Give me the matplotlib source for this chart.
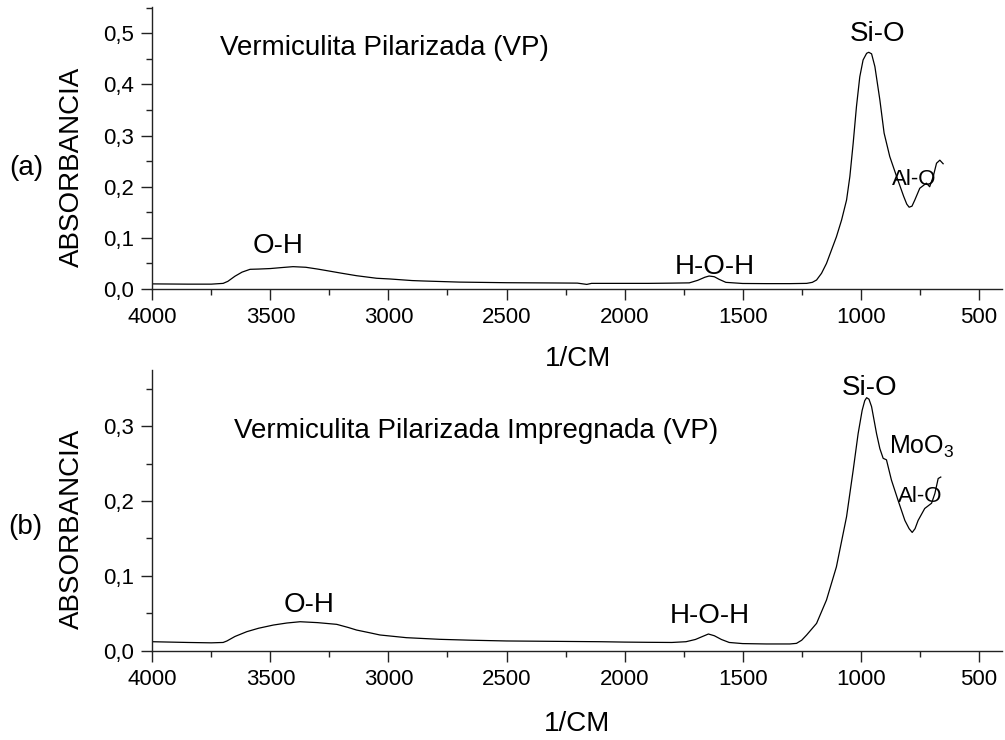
import matplotlib
matplotlib.use("Agg")
import matplotlib.pyplot as plt
from matplotlib.ticker import MultipleLocator, FuncFormatter

plt.rcParams['font.family'] = ['Liberation Sans', 'DejaVu Sans']
plt.rcParams['mathtext.fontset'] = 'custom'
plt.rcParams['mathtext.rm'] = 'Liberation Sans'
plt.rcParams['mathtext.default'] = 'regular'

# ---- data ----
wn_vp = [4000, 3850, 3750, 3700, 3680, 3650, 3620, 3586, 3550, 3500, 3450, 3404,
         3350, 3300, 3262, 3200, 3135, 3050, 2994, 2900, 2854, 2700, 2500, 2300,
         2200, 2160, 2140, 2000, 1900, 1800, 1726, 1690, 1660, 1642, 1620, 1600,
         1571, 1500, 1400, 1300, 1229, 1205, 1187, 1166, 1145, 1124, 1103, 1081,
         1060, 1046, 1032, 1018, 1004, 990, 975, 966, 954, 940, 919, 901, 877,
         848, 818, 805, 795, 783, 771, 750, 722, 708, 693, 679, 665, 651]
abs_vp = [0.010, 0.0095, 0.0095, 0.011, 0.015, 0.025, 0.033, 0.0385, 0.039, 0.040,
          0.042, 0.0437, 0.0425, 0.039, 0.036, 0.031, 0.026, 0.021, 0.0196, 0.0165,
          0.0157, 0.0135, 0.0123, 0.0118, 0.0115, 0.009, 0.011, 0.011, 0.011, 0.0115,
          0.012, 0.017, 0.023, 0.0254, 0.024, 0.019, 0.013, 0.0108, 0.0105, 0.0105,
          0.011, 0.013, 0.0176, 0.0307, 0.050, 0.076, 0.102, 0.135, 0.174, 0.220,
          0.285, 0.357, 0.415, 0.448, 0.461, 0.463, 0.460, 0.435, 0.370, 0.305,
          0.259, 0.220, 0.181, 0.166, 0.160, 0.162, 0.174, 0.197, 0.207, 0.200,
          0.220, 0.246, 0.252, 0.245]

wn_vpi = [4000, 3850, 3750, 3700, 3684, 3650, 3600, 3550, 3487, 3430, 3374, 3300,
          3219, 3170, 3135, 3080, 3036, 2924, 2783, 2650, 2500, 2300, 2100, 2000,
          1900, 1800, 1740, 1700, 1670, 1645, 1620, 1590, 1557, 1500, 1400, 1300,
          1272, 1250, 1229, 1187, 1145, 1103, 1060, 1032, 1011, 994, 983, 975, 965,
          954, 933, 919, 905, 891, 870, 842, 813, 795, 782, 770, 757, 729, 700, 686,
          672, 661]
abs_vpi = [0.012, 0.011, 0.0105, 0.011, 0.013, 0.019, 0.0254, 0.030, 0.0343, 0.037,
           0.0387, 0.0375, 0.0352, 0.031, 0.0276, 0.024, 0.021, 0.0174, 0.0152, 0.014,
           0.013, 0.0125, 0.012, 0.0115, 0.0112, 0.011, 0.012, 0.015, 0.019, 0.0223,
           0.020, 0.015, 0.011, 0.0095, 0.009, 0.009, 0.0098, 0.014, 0.021, 0.0365,
           0.0677, 0.112, 0.179, 0.241, 0.290, 0.321, 0.334, 0.338, 0.336, 0.326,
           0.290, 0.270, 0.257, 0.255, 0.228, 0.201, 0.174, 0.163, 0.158, 0.163,
           0.174, 0.190, 0.197, 0.210, 0.230, 0.232]

x_ticks = [4000, 3500, 3000, 2500, 2000, 1500, 1000, 500]
titles = ["Vermiculita Pilarizada (VP)", "Vermiculita Pilarizada Impregnada (VP)"]
panel_tags = ["(a)", "(b)"]
y_label = "ABSORBANCIA"
x_label = "1/CM"

# ---- figure ----
W, H = 1005, 740
fig = plt.figure(figsize=(W / 100, H / 100), dpi=100)

def fx(px):
    return px / W

def fy(py):
    return 1 - py / H

ax1 = fig.add_axes([fx(152.3), fy(289), fx(1001.7) - fx(152.3), fy(7.3) - fy(289)])
ax2 = fig.add_axes([fx(152.3), fy(650.7), fx(1001.7) - fx(152.3), fy(370) - fy(650.7)])

comma = FuncFormatter(lambda v, p: f"{v:.1f}".replace('.', ','))

for ax, ylim_top in ((ax1, 0.551), (ax2, 0.375)):
    ax.set_xlim(4000, 403)
    ax.set_ylim(0, ylim_top)
    ax.set_xticks(x_ticks)
    ax.xaxis.set_minor_locator(MultipleLocator(250))
    ax.yaxis.set_major_locator(MultipleLocator(0.1))
    ax.yaxis.set_minor_locator(MultipleLocator(0.05))
    ax.yaxis.set_major_formatter(comma)
    for s in ('top', 'right'):
        ax.spines[s].set_visible(False)
    for s in ('left', 'bottom'):
        ax.spines[s].set_linewidth(1.0)
        ax.spines[s].set_color('#222222')
    ax.tick_params(which='major', direction='out', length=8, width=1.0,
                   labelsize=16, pad=5, color='#222222')
    ax.tick_params(which='minor', direction='out', length=4, width=1.0,
                   color='#222222')
    ax.patch.set_alpha(0)

ax1.plot(wn_vp, abs_vp, color='black', lw=0.9)
ax2.plot(wn_vpi, abs_vpi, color='black', lw=0.9)

big = 20
# panel (a) annotations
ax1.text(3713, 0.458, titles[0], fontsize=big, ha='left', va='baseline')
ax1.text(3467, 0.071, "O-H", fontsize=big, ha='center', va='baseline')
ax1.text(1617, 0.0294, "H-O-H", fontsize=big, ha='center', va='baseline')
ax1.text(927, 0.486, "Si-O", fontsize=big, ha='center', va='baseline')
ax1.text(775, 0.2035, "Al-O", fontsize=16, ha='center', va='baseline')

# panel (b) annotations
ax2.text(3656, 0.2836, titles[1], fontsize=big, ha='left', va='baseline')
ax2.text(3336, 0.052, "O-H", fontsize=big, ha='center', va='baseline')
ax2.text(1641, 0.0366, "H-O-H", fontsize=big, ha='center', va='baseline')
ax2.text(961, 0.342, "Si-O", fontsize=big, ha='center', va='baseline')
ax2.text(881, 0.2635, "MoO$_3$", fontsize=18, ha='left', va='baseline')
ax2.text(748, 0.199, "Al-O", fontsize=16, ha='center', va='baseline')

# axis labels & panel tags
fig.text(fx(72), fy(166.7), y_label, rotation=90, fontsize=big, ha='center', va='center')
fig.text(fx(72), fy(528.5), y_label, rotation=90, fontsize=big, ha='center', va='center')
fig.text(fx(578), fy(359), x_label, fontsize=big, ha='center', va='center')
fig.text(fx(577), fy(724), x_label, fontsize=big, ha='center', va='center')
fig.text(fx(26), fy(168), panel_tags[0], fontsize=big, ha='center', va='center')
fig.text(fx(25), fy(527), panel_tags[1], fontsize=big, ha='center', va='center')

fig.savefig("out.png", dpi=100, facecolor='white')
